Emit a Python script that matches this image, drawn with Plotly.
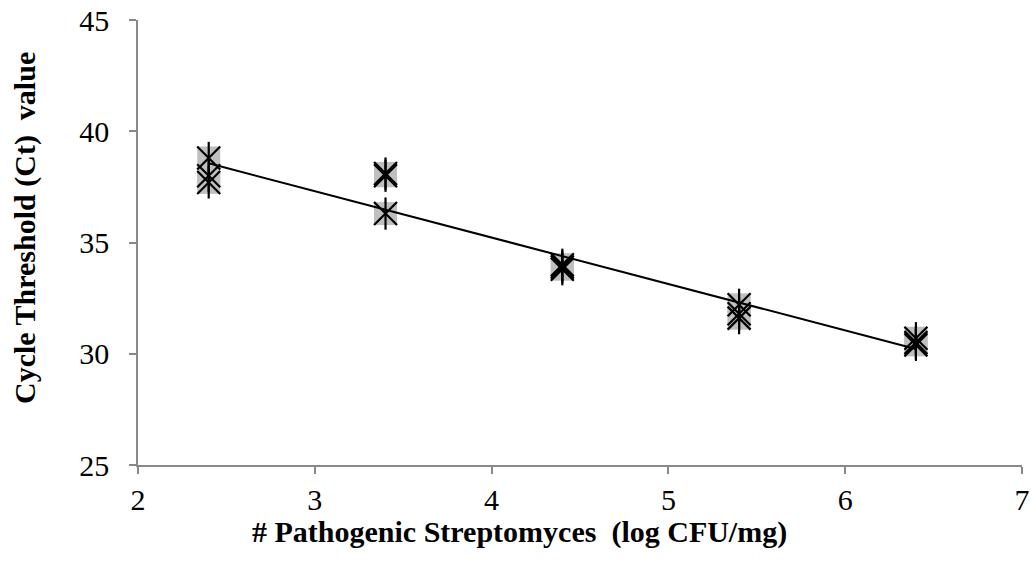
import numpy as np
import plotly.graph_objects as go

x_vals = [2.4, 2.4, 2.4, 3.4, 3.4, 3.4, 4.4, 4.4, 4.4, 5.4, 5.4, 5.4, 6.4, 6.4, 6.4]
ct_vals = [38.8, 38.0, 37.7, 38.1, 38.0, 36.3, 34.0, 33.8, 33.9, 32.2, 31.6, 31.8, 30.7, 30.4, 30.5]
x_ticks = [2, 3, 4, 5, 6, 7]
y_ticks = [25, 30, 35, 40, 45]
x_title = "# Pathogenic Streptomyces  (log CFU/mg)"
y_title = "Cycle Threshold (Ct)  value"

slope, intercept = np.polyfit(x_vals, ct_vals, 1)
fit_x = [min(x_vals), max(x_vals)]
fit_y = [slope * v + intercept for v in fit_x]

fig = go.Figure()
fig.add_trace(go.Scatter(x=x_vals, y=ct_vals, mode="markers",
                         marker=dict(symbol="square", size=23, color="#bfbfbf",
                                     line=dict(width=0)),
                         showlegend=False, hoverinfo="skip"))
fig.add_trace(go.Scatter(x=fit_x, y=fit_y, mode="lines",
                         line=dict(color="black", width=2), showlegend=False))
fig.add_trace(go.Scatter(x=x_vals, y=ct_vals, mode="markers",
                         marker=dict(symbol="x-thin-open", size=23, color="black",
                                     line=dict(width=2.2, color="black")),
                         showlegend=False))
fig.add_trace(go.Scatter(x=x_vals, y=ct_vals, mode="markers",
                         marker=dict(symbol="line-ns-open", size=23, color="black",
                                     line=dict(width=2.2, color="black")),
                         showlegend=False))

font = "Liberation Serif, Times New Roman, serif"
fig.update_layout(
    width=1036, height=571,
    margin=dict(l=138, r=14, t=20, b=106),
    plot_bgcolor="white", paper_bgcolor="white",
    font=dict(family=font, size=30, color="black"),
    xaxis=dict(range=[2, 7], tickvals=x_ticks, showgrid=False, zeroline=False,
               showline=True, linecolor="#898989", linewidth=1.5,
               ticks="outside", ticklen=7, tickcolor="#898989", tickwidth=1.5,
               tickfont=dict(size=30), automargin=False, ticklabeloverflow="allow"),
    yaxis=dict(range=[25, 45], tickvals=y_ticks, showgrid=False, zeroline=False,
               showline=True, linecolor="#898989", linewidth=1.5,
               ticks="outside", ticklen=7, tickcolor="#898989", tickwidth=1.5,
               tickfont=dict(size=30), automargin=False, ticklabeloverflow="allow",
               ticklabelstandoff=14),
    annotations=[
        dict(text="<b>" + x_title + "</b>", xref="paper", yref="paper",
             x=0.431, y=-0.1506, xanchor="center", yanchor="middle",
             showarrow=False, font=dict(size=30)),
        dict(text="<b>" + y_title + "</b>", xref="paper", yref="paper",
             x=-0.1278, y=0.5326, xanchor="center", yanchor="middle",
             textangle=-90, showarrow=False, font=dict(size=30)),
    ],
)
fig.write_html("out.html", config={"displayModeBar": False},
               post_script="document.body.style.margin='0';")
